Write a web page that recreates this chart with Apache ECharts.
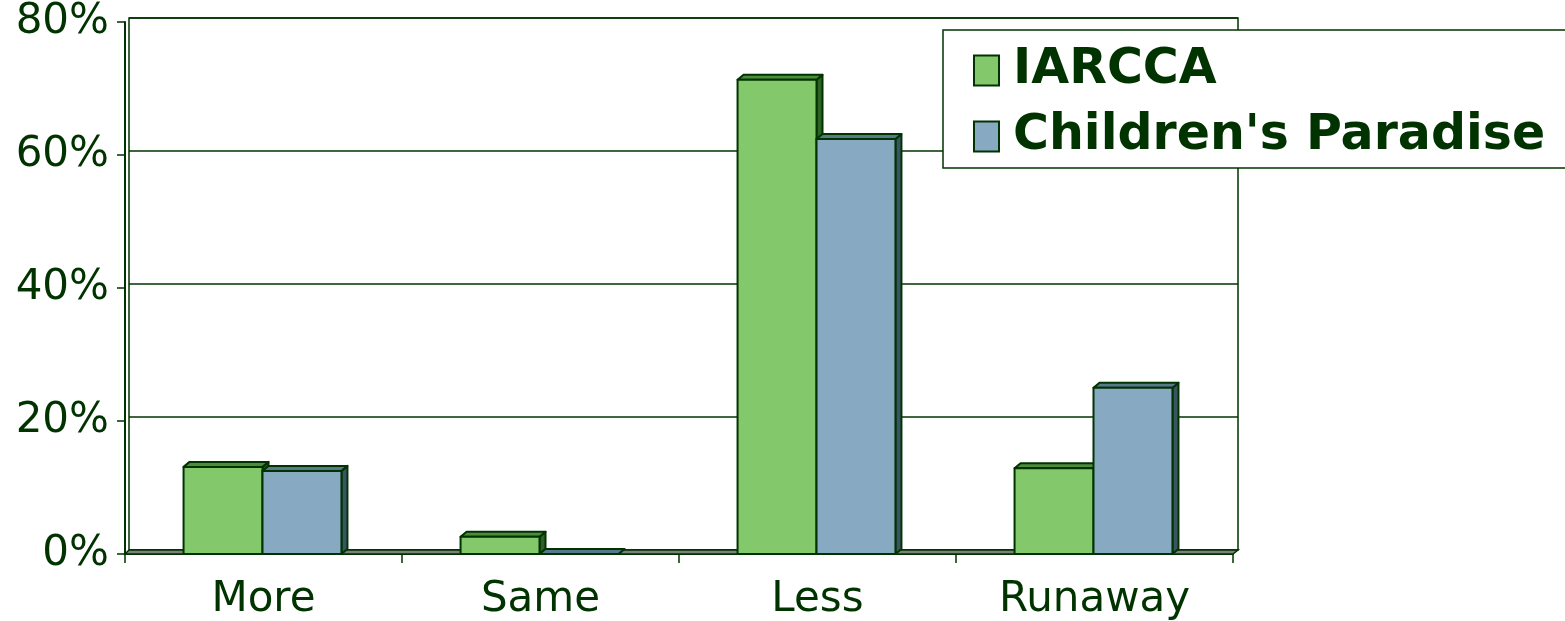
<!DOCTYPE html>
<html><head><meta charset="utf-8">
<script src="https://cdn.jsdelivr.net/npm/echarts@6/dist/echarts.min.js"></script>
<style>html,body{margin:0;padding:0;background:#fff}#c{width:1565px;height:621px}</style>
</head><body><div id="c"></div>
<script>
var categories = ['More', 'Same', 'Less', 'Runaway'];
var iarcca = [0.131, 0.026, 0.713, 0.129];
var childrensParadise = [0.125, 0, 0.624, 0.250];
var yTicks = [0, 0.2, 0.4, 0.6, 0.8];

var INK = '#003300';
var DX = 6, DY = -5;

function barRenderer(side, front, topC, sideC) {
  return function (params, api) {
    var idx = api.value(0), v = api.value(1);
    var base = api.coord([idx, 0]);
    var top = api.coord([idx, v]);
    var band = api.size([1, 0])[0];
    var w = band * 0.285;
    var cx = base[0] - 1;
    var x0 = side < 0 ? cx - w : cx;
    var x1 = x0 + w;
    var y0 = base[1], y1 = top[1];
    var st = {stroke: INK, lineWidth: 2, lineJoin: 'round'};
    return {
      type: 'group',
      children: [
        {type: 'polygon', shape: {points: [[x1, y1], [x1 + DX, y1 + DY], [x1 + DX, y0 + DY], [x1, y0]]},
         style: Object.assign({fill: sideC}, st)},
        {type: 'polygon', shape: {points: [[x0, y1], [x0 + DX, y1 + DY], [x1 + DX, y1 + DY], [x1, y1]]},
         style: Object.assign({fill: topC}, st)},
        {type: 'rect', shape: {x: x0, y: y1, width: w, height: y0 - y1},
         style: Object.assign({fill: front}, st)}
      ]
    };
  };
}

function floorRenderer(params, api) {
  var cs = params.coordSys;
  var x = cs.x, y = cs.y + cs.height, w = cs.width;
  return {
    type: 'polygon',
    shape: {points: [[x, y], [x + 4, y - 4], [x + w + 5, y - 4], [x + w, y]]},
    style: {fill: '#7f7f7f', stroke: INK, lineWidth: 1.5}
  };
}

var chart = echarts.init(document.getElementById('c'));
chart.setOption({
  animation: false,
  backgroundColor: '#ffffff',
  grid: [
    {left: 125, right: 332, top: 22, bottom: 67, outerBoundsMode: 'none', containLabel: false},
    {left: 129, right: 327, top: 18, bottom: 71, outerBoundsMode: 'none', containLabel: false,
     show: true, borderColor: INK, borderWidth: 1.5, backgroundColor: 'transparent'}
  ],
  legend: {
    orient: 'vertical',
    left: 943, top: 30,
    padding: [16, 40, 7, 30],
    borderColor: INK, borderWidth: 1.5,
    backgroundColor: '#fff',
    icon: 'rect',
    itemWidth: 25, itemHeight: 30,
    itemGap: 17,
    data: ['IARCCA', "Children's Paradise"],
    textStyle: {fontFamily: 'DejaVu Sans', fontWeight: 'bold', fontSize: 49, color: INK, lineHeight: 36, padding: [0, 0, 0, 9]}
  },
  xAxis: [
    {type: 'category', gridIndex: 0, data: categories,
     axisLine: {show: true, lineStyle: {color: INK, width: 2}},
     axisTick: {show: true, length: 9, lineStyle: {color: INK, width: 1.5}},
     axisLabel: {fontFamily: 'DejaVu Sans', fontSize: 42, color: INK, margin: 25}},
    {type: 'category', gridIndex: 1, data: categories, show: false}
  ],
  yAxis: [
    {type: 'value', gridIndex: 0, min: 0, max: 0.8, interval: 0.2,
     axisLine: {show: true, lineStyle: {color: INK, width: 2}},
     axisTick: {show: true, length: 8, lineStyle: {color: INK, width: 1.5}},
     splitLine: {show: false},
     axisLabel: {fontFamily: 'DejaVu Sans', fontSize: 42, color: INK, margin: 16,
       lineHeight: 42, padding: [10, 0, 0, 0],
       formatter: function (v) { return Math.round(v * 100) + '%'; }}},
    {type: 'value', gridIndex: 1, min: 0, max: 0.8, interval: 0.2,
     axisLine: {show: false}, axisTick: {show: false}, axisLabel: {show: false},
     splitLine: {show: true, lineStyle: {color: INK, width: 1.5}}}
  ],
  series: [
    {type: 'custom', name: 'floor', xAxisIndex: 0, yAxisIndex: 0, data: [[0, 0]], z: 1,
     renderItem: floorRenderer, silent: true, legendHoverLink: false},
    {type: 'custom', name: 'IARCCA', xAxisIndex: 0, yAxisIndex: 0, z: 3,
     itemStyle: {color: '#83C96B', borderColor: INK, borderWidth: 1.5},
     encode: {x: 0, y: 1},
     data: iarcca.map(function (v, i) { return [i, v]; }),
     renderItem: barRenderer(-1, '#83C96B', '#4d8c3c', '#2e6224')},
    {type: 'custom', name: "Children's Paradise", xAxisIndex: 0, yAxisIndex: 0, z: 4,
     itemStyle: {color: '#87AAC2', borderColor: INK, borderWidth: 1.5},
     encode: {x: 0, y: 1},
     data: childrensParadise.map(function (v, i) { return [i, v]; }),
     renderItem: barRenderer(1, '#87AAC2', '#58798c', '#3a5462')}
  ]
});
</script></body></html>
